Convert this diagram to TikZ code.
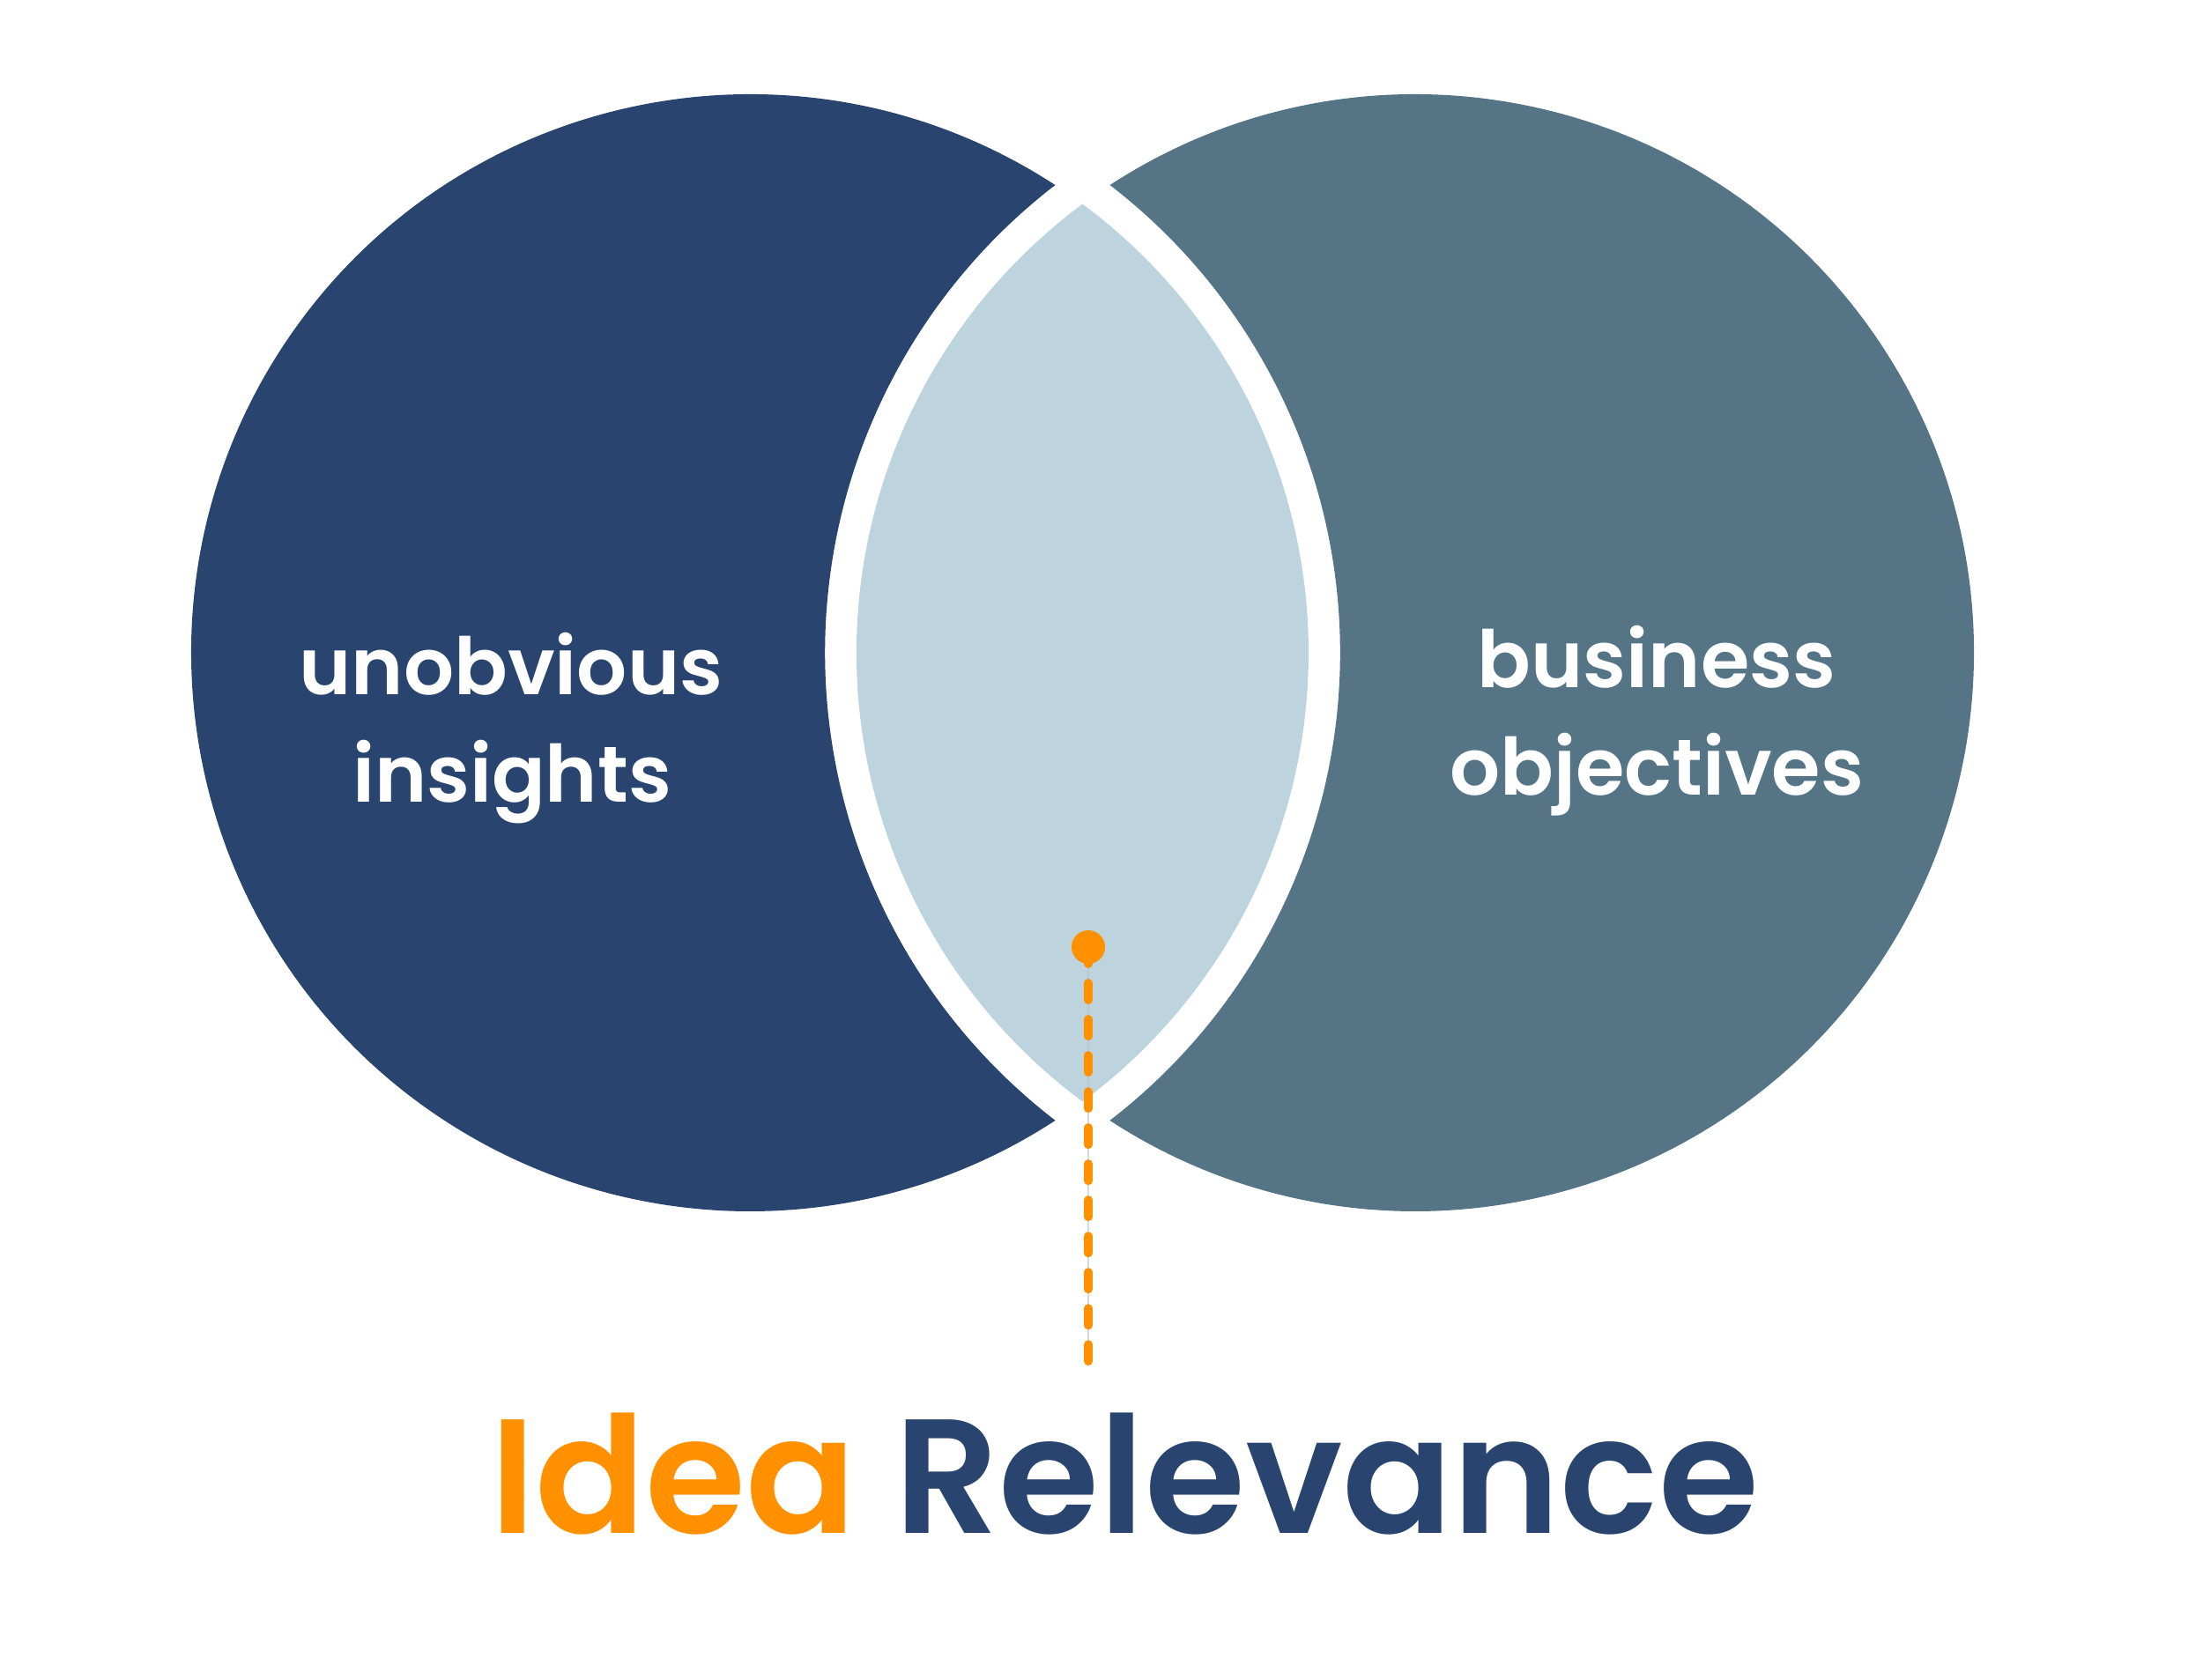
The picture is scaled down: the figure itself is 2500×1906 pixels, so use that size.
\documentclass[tikz,border=0pt]{standalone}
\usepackage{fontspec}
\setmainfont{Poppins}
\newfontfamily\semib{Poppins SemiBold}
\definecolor{navy}{HTML}{28446F}
\definecolor{slate}{HTML}{557587}
\definecolor{lensblue}{HTML}{BDD3DE}
\definecolor{orng}{HTML}{FF9100}
\tikzset{
  circtext/.style={text=white, anchor=base, inner sep=0pt, font=\semib\fontsize{25.5pt}{30pt}\selectfont},
  titletext/.style={anchor=base, inner sep=0pt, font=\semib\fontsize{52.5pt}{60pt}\selectfont},
  dotstyle/.style={circle, fill=orng, inner sep=0pt, minimum size=0.38cm},
  dashline/.style={orng, line width=0.095cm, line cap=round, dash pattern=on 0.195cm off 0.215cm},
  faintline/.style={gray!50, line width=0.4pt, opacity=0.6}
}
\begin{document}
\begin{tikzpicture}[x=0.01cm,y=-0.01cm]
\useasboundingbox (0,0) rectangle (2500,1906);
\coordinate (L) at (851,741);
\coordinate (R) at (1606,741);
% left crescent
\fill[navy] (L) ++(-56.86:634) arc[start angle=-56.86, end angle=-303.14, radius=634]
  arc[start angle=127.58, end angle=232.42, radius=670] -- cycle;
% right crescent
\fill[slate] (R) ++(-123.14:634) arc[start angle=-123.14, end angle=123.14, radius=634]
  arc[start angle=52.42, end angle=-52.42, radius=670] -- cycle;
% lens
\fill[lensblue] (L) ++(-53.46:634) arc[start angle=-53.46, end angle=53.46, radius=634]
  arc[start angle=126.54, end angle=233.46, radius=634] -- cycle;
\node[circtext] (t1) at (580,788) {unobvious};
\node[circtext] (t2) at (581,910) {insights};
\node[circtext] (t3) at (1880,780) {business};
\node[circtext] (t4) at (1880,902) {objectives};
\coordinate (dend) at (1235,1545.25);
\coordinate (dstart) at (1235,1074.75);
\draw[faintline] (dstart) -- (dend);
\draw[dashline] (dstart) -- (dend);
\node[dotstyle] (dot) at (1235,1075) {};
\node[titletext] (title) at (1276,1740) {\textcolor{orng}{Idea} \textcolor{navy}{Relevance}};
\end{tikzpicture}
\end{document}
